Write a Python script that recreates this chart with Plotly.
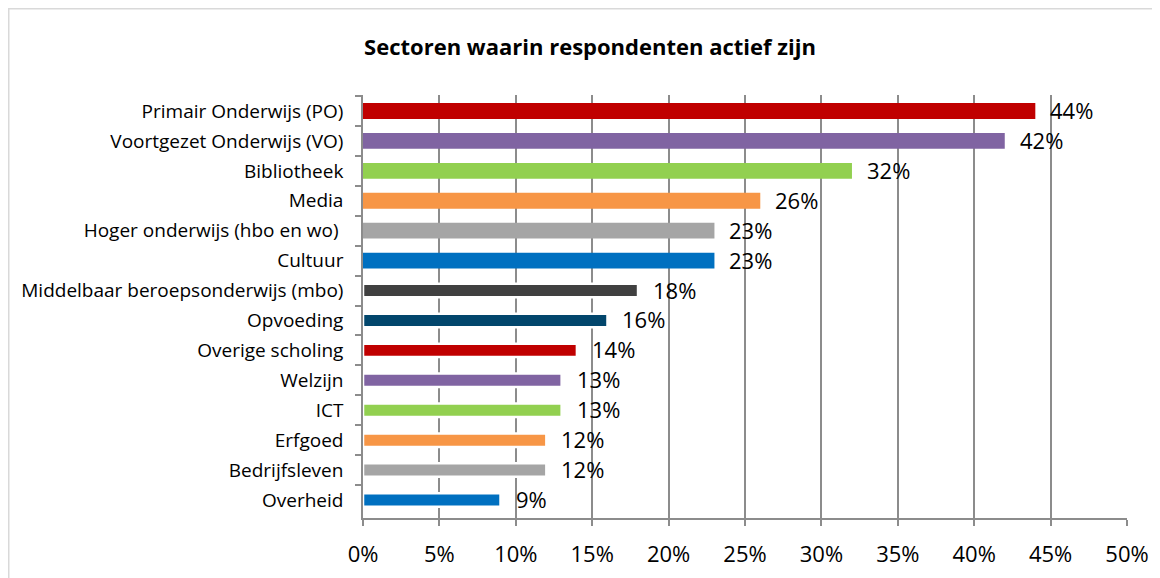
import plotly.graph_objects as go

categories = [
    "Primair Onderwijs (PO)",
    "Voortgezet Onderwijs (VO)",
    "Bibliotheek",
    "Media",
    "Hoger onderwijs (hbo en wo) ",
    "Cultuur",
    "Middelbaar beroepsonderwijs (mbo)",
    "Opvoeding",
    "Overige scholing",
    "Welzijn",
    "ICT",
    "Erfgoed",
    "Bedrijfsleven",
    "Overheid",
]
values = [0.44, 0.42, 0.32, 0.26, 0.23, 0.23, 0.18, 0.16, 0.14, 0.13, 0.13, 0.12, 0.12, 0.09]
labels = ["44%", "42%", "32%", "26%", "23%", "23%", "18%", "16%", "14%", "13%", "13%", "12%", "12%", "9%"]
colors = ["#C00000", "#8064A2", "#92D050", "#F79646", "#A5A5A5", "#0070C0", "#404040",
          "#02466C", "#C00000", "#8064A2", "#92D050", "#F79646", "#A5A5A5", "#0070C0"]
tick_vals = [0, 0.05, 0.10, 0.15, 0.20, 0.25, 0.30, 0.35, 0.40, 0.45, 0.50]
tick_text = ["0%", "5%", "10%", "15%", "20%", "25%", "30%", "35%", "40%", "45%", "50%"]

n_thick = 6
widths = [0.53] * n_thick + [0.45] * (len(categories) - n_thick)
line_w = [0] * n_thick + [2.5] * (len(categories) - n_thick)

fig = go.Figure()
fig.add_trace(go.Bar(
    x=values, y=categories, orientation="h",
    marker=dict(color=colors, line=dict(color="white", width=line_w)),
    width=widths,
    hoverinfo="skip",
))

for v, c, t in zip(values, categories, labels):
    fig.add_annotation(x=v, y=c, text=t, showarrow=False, xanchor="left",
                       xshift=13, yshift=1,
                       font=dict(family="Open Sans", size=22, color="#000000"))

GRID = "#8C8C8C"
# page has an 8px body margin; figure coordinates are offset accordingly
W, H = 1152, 570
L, R, T, B = 355, W - 1119, 87, H - 510
PW, PH = W - L - R, H - T - B
fig.update_layout(
    width=W, height=H,
    margin=dict(l=L, r=R, t=T, b=B, autoexpand=False),
    paper_bgcolor="white", plot_bgcolor="white",
    showlegend=False,
    title=dict(text="<b>Sectoren waarin respondenten actief zijn</b>",
               x=(582 / W), xanchor="center", y=1 - 39 / H, yanchor="middle",
               font=dict(family="Open Sans", size=22, color="#000000")),
    xaxis=dict(range=[0, 0.5], tickvals=tick_vals, ticktext=tick_text,
               showgrid=True, gridcolor=GRID, gridwidth=1.5,
               showline=True, linecolor=GRID, linewidth=1.5,
               ticks="outside", ticklen=6, tickcolor=GRID, tickwidth=1.5,
               zeroline=False, ticklabelstandoff=10,
               tickfont=dict(family="Open Sans", size=22, color="#000000")),
    yaxis=dict(autorange="reversed", showgrid=False,
               showline=True, linecolor=GRID, linewidth=1.5,
               ticks="outside", ticklen=6, tickcolor=GRID, tickwidth=1.5,
               tickson="boundaries", ticklabelstandoff=14,
               tickfont=dict(family="Open Sans", size=19, color="#000000")),
    bargap=0.4,
    shapes=[dict(type="rect", xref="paper", yref="paper",
                 x0=(0.75 - L) / PW, x1=1.3, y0=-0.4, y1=(H - B - 0.75) / PH,
                 line=dict(color="#D9D9D9", width=1.5), fillcolor="rgba(0,0,0,0)",
                 layer="below")],
)

fig.write_html("out.html")
